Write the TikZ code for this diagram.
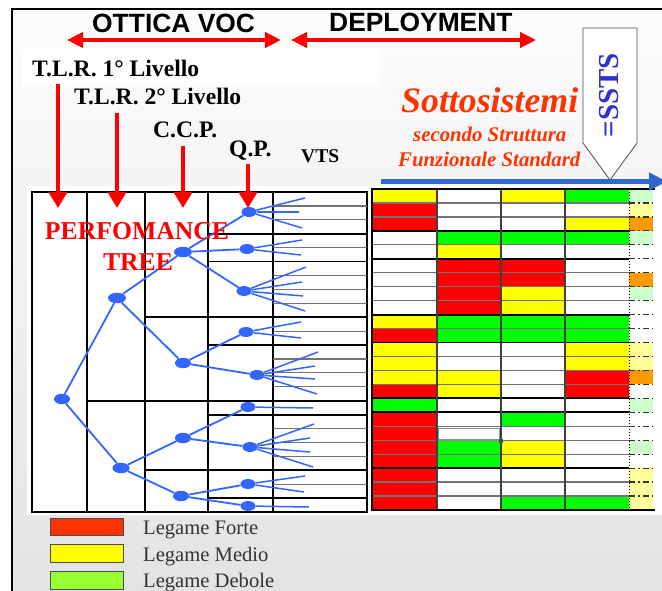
\documentclass[tikz,border=0pt]{standalone}
\usepackage{fontspec}
\setmainfont{Liberation Serif}
\newfontfamily\arialfont{Liberation Sans}
\usepackage{xcolor}
\usepackage{tikz}
\usetikzlibrary{arrows.meta}
\usetikzlibrary{shapes.geometric, calc}

\definecolor{treeblue}{RGB}{51,102,255}
\definecolor{sstsblue}{RGB}{51,102,204}
\definecolor{ssttext}{RGB}{51,51,204}
\definecolor{sottored}{RGB}{255,51,0}
\definecolor{cR}{RGB}{255,0,0}
\definecolor{cY}{RGB}{255,255,0}
\definecolor{cG}{RGB}{0,255,0}
\definecolor{cW}{RGB}{255,255,255}
\definecolor{pG}{RGB}{204,255,204}
\definecolor{pY}{RGB}{255,255,153}
\definecolor{pO}{RGB}{255,153,0}
\definecolor{lgR}{RGB}{255,51,0}
\definecolor{lgG}{RGB}{153,255,51}

\begin{document}
\begin{tikzpicture}[x=1pt, y=1pt,
    tnode/.style={ellipse, fill=treeblue, minimum width=16pt, minimum height=10.5pt, inner sep=0pt},
    qnode/.style={tnode, minimum width=15pt, minimum height=10pt},
    branch/.style={treeblue, line width=1.8pt},
    leaf/.style={treeblue, line width=1.5pt},
    thinrule/.style={black!55, line width=1.2pt},
    grouprule/.style={black, line width=1.8pt},
    dashdotrule/.style={black!80, line width=1.2pt, dash pattern=on 6pt off 3pt on 2pt off 3pt},
    redarrow/.style={red, line width=4pt},
    headtip/.style={-{Triangle[length=16pt,width=18pt]}},
    hdr/.style={anchor=base west, inner sep=0pt, font=\arialfont\bfseries\fontsize{26.4}{30}\selectfont},
    lvl/.style={anchor=base west, inner sep=0pt, font=\bfseries\fontsize{23.6}{28}\selectfont},
    perf/.style={anchor=base, inner sep=0pt, red, font=\bfseries\fontsize{25.7}{30}\selectfont},
    sotto/.style={anchor=base west, inner sep=0pt, font=\bfseries\itshape\fontsize{20.8}{24}\selectfont},
    legbox/.style={draw=black!70, line width=1pt},
    legtext/.style={anchor=base west, inner sep=0pt, black!80, font=\fontsize{20.6}{24}\selectfont}
  ]
  \useasboundingbox (0,0) rectangle (662,-591);
  \clip (0,0) rectangle (662,-591);

  % background and frame
  \fill[white] (0,0) rectangle (662,-591);
  \shade[top color=black!1, bottom color=black!11] (12,-9) rectangle (662,-591);
  \fill[white] (27,-186) rectangle (662,-515);
  \fill[white] (21,-48) rectangle (380,-87);
  \draw[line width=1.5pt] (662,-9) -- (12,-9) -- (12,-591);

  % headers
  \node[hdr] (ottica) at (92,-33) {OTTICA VOC};
  \node[hdr] (deploy) at (329,-32) {DEPLOYMENT};
  \coordinate (vocL) at (67,-40);
  \coordinate (vocR) at (281,-40);
  \coordinate (depL) at (291,-40);
  \coordinate (depR) at (536,-40);
  \draw[redarrow, {Triangle[length=16pt,width=15pt]}-{Triangle[length=16pt,width=15pt]}] (vocL) -- (vocR);
  \draw[redarrow, {Triangle[length=16pt,width=15pt]}-{Triangle[length=16pt,width=15pt]}] (depL) -- (depR);

  % level labels
  \node[lvl] (tlr1) at (32,-77) {T.L.R. 1° Livello};
  \node[lvl] (tlr2) at (74,-105) {T.L.R. 2° Livello};
  \node[lvl] (ccp) at (153,-138) {C.C.P.};
  \node[lvl] (qp) at (229,-157) {Q.P.};
  \node[lvl, font=\bfseries\fontsize{19.5}{22}\selectfont] (vts) at (301,-163) {VTS};

  % left table
  \draw[grouprule] (32,-192) rectangle (367,-512);
  \foreach \x in {87,145,208,273}
    \draw[grouprule] (\x,-192) -- (\x,-512);
  \foreach \k in {1,...,22}
    \draw[thinrule] (273,{-192-13.913*\k}) -- (367,{-192-13.913*\k});
  \draw[grouprule] (87,{-192-13.913*15}) -- (367,{-192-13.913*15});
  \foreach \k in {9,20}
    \draw[grouprule] (145,{-192-13.913*\k}) -- (367,{-192-13.913*\k});
  \foreach \k in {3,5,11,16,22}
    \draw[grouprule] (208,{-192-13.913*\k}) -- (367,{-192-13.913*\k});

  % right table
  \foreach \ca/\cb/\cc/\cd/\ce [count=\r from 0] in {
      cY/cW/cY/cG/pG, cR/cW/cW/cW/pY, cR/cW/cW/cY/pO, cW/cG/cG/cG/pG,
      cW/cY/cW/cW/cW, cW/cR/cR/cW/cW, cW/cR/cR/cW/pO, cW/cR/cY/cW/pG,
      cW/cR/cY/cW/cW, cY/cG/cG/cG/cW, cR/cG/cG/cG/cW, cY/cW/cW/cY/pY,
      cY/cW/cW/cY/pY, cY/cY/cW/cR/pO, cR/cY/cW/cR/cW, cG/cW/cW/cW/pG,
      cR/cW/cG/cW/cW, cR/cW/cW/cW/cW, cR/cG/cY/cW/pG, cR/cG/cY/cW/cW,
      cR/cW/cW/cW/pY, cR/cW/cW/cW/pY, cR/cW/cG/cG/pY}{
    \pgfmathsetmacro{\yt}{-189-13.957*\r}
    \pgfmathsetmacro{\yb}{\yt-13.957}
    \fill[\ca] (372,\yt) rectangle (437,\yb);
    \fill[\cb] (437,\yt) rectangle (501,\yb);
    \fill[\cc] (501,\yt) rectangle (565,\yb);
    \fill[\cd] (565,\yt) rectangle (629,\yb);
    \fill[\ce] (629,\yt) rectangle (653,\yb);
  }
  \foreach \k in {1,...,22}{
    \draw[thinrule] (372,{-189-13.957*\k}) -- (629,{-189-13.957*\k});
    \draw[dashdotrule] (629,{-189-13.957*\k}) -- (653,{-189-13.957*\k});
  }
  \foreach \k in {3,5,9,11,15,16,20}
    \draw[grouprule] (372,{-189-13.957*\k}) -- (629,{-189-13.957*\k});
  \foreach \x in {437,501,565}
    \draw[black!75, line width=1.1pt] (\x,-189) -- (\x,-510);
  \draw[black, dotted, line width=1pt] (629,-189) -- (629,-510);
  \draw[black, line width=2pt] (655,-189) -- (372,-189) -- (372,-510) -- (655,-510);
  % active cell
  \draw[black!45, line width=1.8pt] (438.5,-428.5) rectangle (499.5,-440);
  \fill[black!70] (499,-439) rectangle (503,-443);

  % tree
  \node[tnode] (tlra) at (62,-399) {};
  \node[tnode, minimum width=18pt] (tlrb1) at (117,-298) {};
  \node[tnode, minimum width=17pt] (tlrb2) at (121,-468) {};
  \node[tnode, minimum width=18pt] (ccp1) at (183,-252) {};
  \node[tnode] (ccp2) at (183,-363) {};
  \node[tnode] (ccp3) at (183,-438) {};
  \node[tnode] (ccp4) at (181,-496) {};
  \node[qnode] (qp1) at (249,-212) {};
  \node[qnode] (qp2) at (247,-249) {};
  \node[qnode] (qp3) at (244,-291) {};
  \node[qnode] (qp4) at (246,-332) {};
  \node[qnode] (qp5) at (257,-375) {};
  \node[qnode] (qp6) at (248,-407) {};
  \node[qnode] (qp7) at (250,-447) {};
  \node[qnode] (qp8) at (248,-484) {};
  \node[qnode] (qp9) at (248,-506) {};
  \foreach \p/\c in {tlra/tlrb1, tlra/tlrb2, tlrb1/ccp1, tlrb1/ccp2, tlrb2/ccp3, tlrb2/ccp4,
      ccp1/qp1, ccp1/qp2, ccp1/qp3, ccp2/qp4, ccp2/qp5, ccp3/qp6, ccp3/qp7, ccp4/qp8, ccp4/qp9}
    \draw[branch] (\p) -- (\c);
  \foreach \q/\x/\y [count=\i] in {qp1/305/198, qp1/299/212, qp1/302/228, qp2/302/240, qp2/301/255,
      qp3/306/267, qp3/302/282, qp3/303/296, qp3/305/311, qp4/301/322, qp4/301/338,
      qp5/318/352, qp5/315/366, qp5/315/379, qp5/317/394, qp6/313/408,
      qp7/314/424, qp7/310/438, qp7/310/452, qp7/313/467, qp8/305/476, qp8/304/492, qp9/309/507}{
    \coordinate (vts\i) at (\x,-\y);
    \draw[leaf] (\q) -- (vts\i);
  }

  % PERFOMANCE TREE
  \node[perf] (perfword) at (137,-240) {PERFOMANCE};
  \node[perf] (treeword) at (138,-270) {TREE};

  % down arrows
  \coordinate (a1s) at (58,-84);   \coordinate (a1e) at (58,-208);
  \coordinate (a2s) at (117,-113); \coordinate (a2e) at (117,-208);
  \coordinate (a3s) at (183,-146); \coordinate (a3e) at (183,-208);
  \coordinate (a4s) at (248,-164); \coordinate (a4e) at (248,-208);
  \foreach \n in {1,2,3,4}
    \draw[redarrow, headtip] (a\n s) -- (a\n e);

  % Sottosistemi
  \node[sotto, sottored, font=\bfseries\itshape\fontsize{35.8}{40}\selectfont] (sottotitle) at (401,-113) {Sottosistemi};
  \node[sotto, sottored] (secondo) at (413,-141.7) {secondo Struttura};
  \node[sotto, sottored] (funz) at (398,-166.7) {Funzionale Standard};

  % SSTS callout
  \draw[black!70, fill=white, line width=0.8pt] (583,-28) -- (637,-28) -- (637,-143) -- (610,-180) -- (583,-143) -- cycle;
  \node[rotate=90, inner sep=0pt, ssttext, font=\bfseries\fontsize{29}{32}\selectfont] (ssts) at (609,-95) {=SSTS};
  \coordinate (sstsL) at (381,-181.5);
  \coordinate (sstsR) at (667,-181.5);
  \draw[sstsblue, line width=4.5pt, -{Triangle[length=18pt,width=17pt]}] (sstsL) -- (sstsR);

  % legend
  \draw[legbox, fill=lgR] (50,-518) rectangle (123,-535);
  \draw[legbox, fill=cY] (50,-544) rectangle (123,-562);
  \draw[legbox, fill=lgG] (50,-571) rectangle (123,-589);
  \node[legtext] (forte) at (143,-534) {Legame Forte};
  \node[legtext] (medio) at (143,-561) {Legame Medio};
  \node[legtext] (debole) at (143,-587) {Legame Debole};
\end{tikzpicture}
\end{document}
